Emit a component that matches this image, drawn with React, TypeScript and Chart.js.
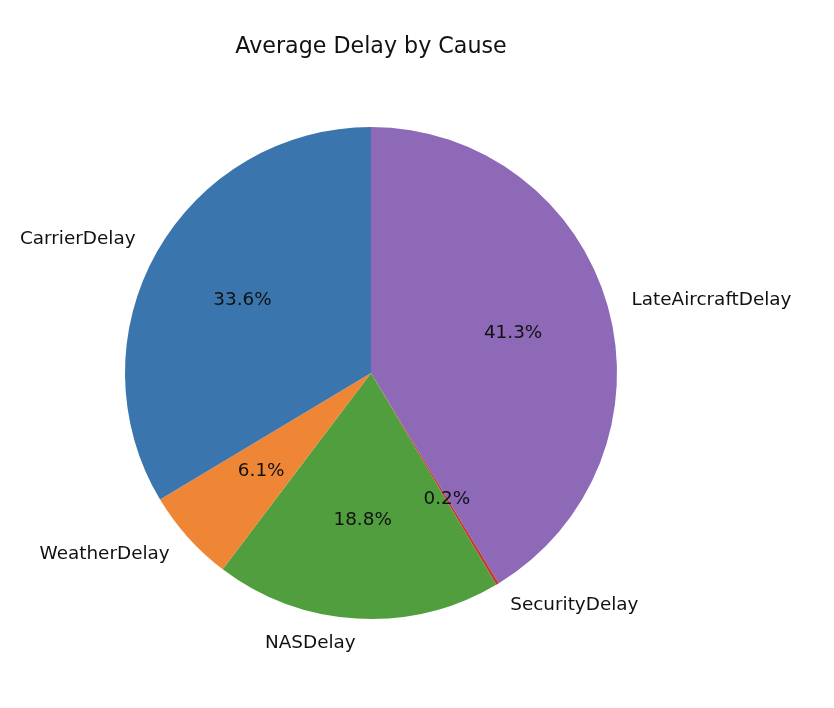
import React, { useEffect, useRef } from "react";
import { Chart, registerables } from "chart.js";

Chart.register(...registerables);

// Data in matplotlib order (counter-clockwise from 12 o'clock)
const categories = ["CarrierDelay", "WeatherDelay", "NASDelay", "SecurityDelay", "LateAircraftDelay"];
const shares = [33.6, 6.1, 18.8, 0.2, 41.3];
const colors = ["#3a75ae", "#ef8636", "#519e3e", "#c53a32", "#8d69b8"];
const titleText = "Average Delay by Cause";

// Chart.js draws clockwise, so reverse to emulate matplotlib's counter-clockwise layout
const chartLabels = [...categories].reverse();
const chartValues = [...shares].reverse();
const chartColors = [...colors].reverse();

const FONT = "'DejaVu Sans', sans-serif";

const labelPlugin = {
  id: "mplLabels",
  afterDraw(chart: any) {
    const ctx = chart.ctx as CanvasRenderingContext2D;
    const meta = chart.getDatasetMeta(0);
    ctx.save();
    ctx.fillStyle = "#111111";
    ctx.font = `18.4px ${FONT}`;
    meta.data.forEach((arc: any, i: number) => {
      const { x, y, startAngle, endAngle, outerRadius } = arc.getProps(
        ["x", "y", "startAngle", "endAngle", "outerRadius"],
        true
      );
      const mid = (startAngle + endAngle) / 2;
      const c = Math.cos(mid);
      const s = Math.sin(mid);
      // category label at 1.1 r
      const lx = x + c * outerRadius * 1.1;
      const ly = y + s * outerRadius * 1.1;
      ctx.textBaseline = "middle";
      ctx.textAlign = c > 0 ? "left" : "right";
      ctx.fillText(chartLabels[i], lx, ly);
      // percentage at 0.6 r
      const px = x + c * outerRadius * 0.6;
      const py = y + s * outerRadius * 0.6;
      ctx.textAlign = "center";
      ctx.fillText(chartValues[i].toFixed(1) + "%", px, py);
    });
    // title
    const cx = meta.data[0].x;
    ctx.font = `22.2px ${FONT}`;
    ctx.textAlign = "center";
    ctx.textBaseline = "middle";
    ctx.fillText(titleText, cx, 47);
    ctx.restore();
  },
};

export default function App() {
  const ref = useRef<HTMLCanvasElement | null>(null);
  useEffect(() => {
    if (!ref.current) return;
    const chart = new Chart(ref.current, {
      type: "pie",
      data: {
        labels: chartLabels,
        datasets: [
          {
            data: chartValues,
            backgroundColor: chartColors,
            borderWidth: 0,
          },
        ],
      },
      options: {
        animation: false,
        responsive: false,
        maintainAspectRatio: false,
        rotation: 0,
        layout: { padding: { left: 125, top: 127, right: 217, bottom: 89 } },
        plugins: {
          legend: { display: false },
          tooltip: { enabled: false },
          title: { display: false },
        },
      },
      plugins: [labelPlugin],
    });
    return () => chart.destroy();
  }, []);
  return (
    <div style={{ position: "fixed", left: 0, top: 0, width: 834, height: 708, background: "#fff" }}>
      <canvas ref={ref} width={834} height={708} style={{ width: 834, height: 708 }} />
    </div>
  );
}
